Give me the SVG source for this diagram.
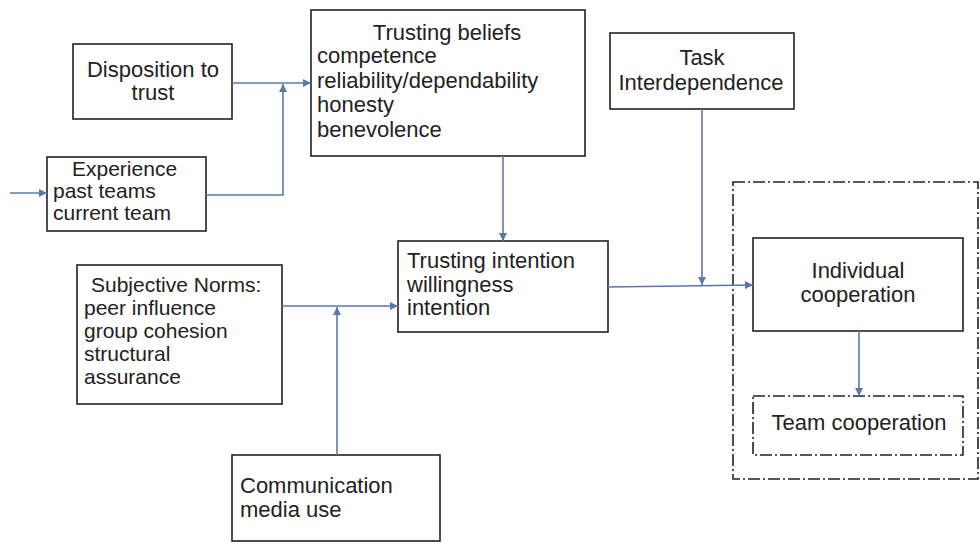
<svg xmlns="http://www.w3.org/2000/svg" width="980" height="543" viewBox="0 0 980 543">
  <style>
    .box { fill: #ffffff; stroke: #222222; stroke-width: 1.6; }
    .dashbox { fill: none; stroke: #222222; stroke-width: 1.6; stroke-dasharray: 12 3 2 3; }
    .lbl { font-family: "Liberation Sans", Arial, sans-serif; font-size: 22px; fill: #222222; }
    .tight { font-size: 21px; }
    .mid { text-anchor: middle; }
    .conn { fill: none; stroke: #5a78ad; stroke-width: 1.6; }
  </style>
  <defs>
    <marker id="arrow" viewBox="0 0 10 10" refX="10" refY="5" markerWidth="9" markerHeight="8" markerUnits="userSpaceOnUse" orient="auto">
      <path d="M0,0 L10,5 L0,10 Z" fill="#5a78ad"/>
    </marker>
  </defs>
  <rect width="980" height="543" fill="#ffffff"/>

  <!-- grouping frame around the cooperation outcomes -->
  <rect class="dashbox" x="733" y="182" width="245" height="297"/>

  <g id="disposition">
    <rect class="box" x="73" y="44" width="159" height="75"/>
    <text class="lbl mid" x="153" y="77">Disposition to</text>
    <text class="lbl mid" x="153" y="100">trust</text>
  </g>

  <g id="experience">
    <rect class="box" x="47" y="157" width="159" height="74"/>
    <text class="lbl tight" x="72" y="176">Experience</text>
    <text class="lbl tight" x="53" y="198">past teams</text>
    <text class="lbl tight" x="53" y="220">current team</text>
  </g>

  <g id="trusting-beliefs">
    <rect class="box" x="311" y="10" width="274" height="146"/>
    <text class="lbl mid" x="447" y="40">Trusting beliefs</text>
    <text class="lbl" x="317" y="63">competence</text>
    <text class="lbl" x="317" y="88">reliability/dependability</text>
    <text class="lbl" x="317" y="112">honesty</text>
    <text class="lbl" x="317" y="137">benevolence</text>
  </g>

  <g id="task-interdependence">
    <rect class="box" x="610" y="33" width="184" height="76"/>
    <text class="lbl mid" x="702" y="65">Task</text>
    <text class="lbl mid" x="701" y="90">Interdependence</text>
  </g>

  <g id="subjective-norms">
    <rect class="box" x="77" y="265" width="205" height="139"/>
    <text class="lbl tight" x="91" y="292">Subjective Norms:</text>
    <text class="lbl tight" x="84" y="315">peer influence</text>
    <text class="lbl tight" x="84" y="338">group cohesion</text>
    <text class="lbl tight" x="84" y="361">structural</text>
    <text class="lbl tight" x="84" y="384">assurance</text>
  </g>

  <g id="trusting-intention">
    <rect class="box" x="398" y="241" width="210" height="91"/>
    <text class="lbl" x="407" y="268">Trusting intention</text>
    <text class="lbl" x="407" y="292">willingness</text>
    <text class="lbl" x="407" y="315">intention</text>
  </g>

  <g id="communication">
    <rect class="box" x="232" y="455" width="208" height="86"/>
    <text class="lbl" x="240" y="493">Communication</text>
    <text class="lbl" x="240" y="517">media use</text>
  </g>

  <g id="individual-cooperation">
    <rect class="box" x="753" y="238" width="210" height="93"/>
    <text class="lbl mid" x="858" y="278">Individual</text>
    <text class="lbl mid" x="858" y="302">cooperation</text>
  </g>

  <g id="team-cooperation">
    <rect class="dashbox" x="753" y="396" width="210" height="59"/>
    <text class="lbl mid" x="859" y="430">Team cooperation</text>
  </g>

  <g id="connectors">
    <path class="conn" d="M10,193 L47,193" marker-end="url(#arrow)"/>
    <path class="conn" d="M232,83 L311,83" marker-end="url(#arrow)"/>
    <path class="conn" d="M206,195 L283,195 L283,84" marker-end="url(#arrow)"/>
    <path class="conn" d="M503,156 L503,241" marker-end="url(#arrow)"/>
    <path class="conn" d="M282,306 L398,306" marker-end="url(#arrow)"/>
    <path class="conn" d="M337,455 L337,307" marker-end="url(#arrow)"/>
    <path class="conn" d="M608,287 L753,285" marker-end="url(#arrow)"/>
    <path class="conn" d="M702,109 L702,285" marker-end="url(#arrow)"/>
    <path class="conn" d="M859,331 L859,396" marker-end="url(#arrow)"/>
  </g>
</svg>
